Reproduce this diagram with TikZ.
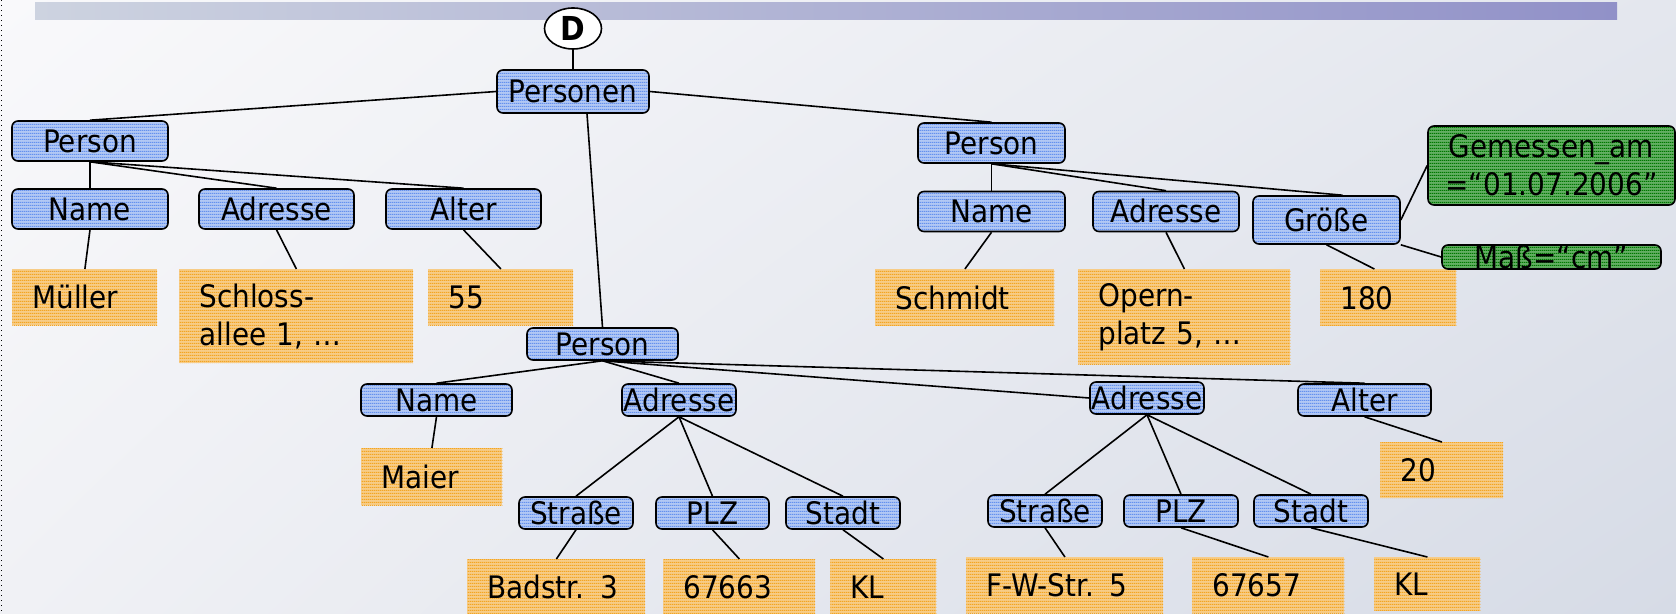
\documentclass[tikz,border=0pt]{standalone}
\usepackage{fontspec}
\setmainfont{DejaVu Sans}[FakeStretch=0.9, WordSpace=0.8]
\usetikzlibrary{patterns, shapes.geometric, shadings}

% thin horizontal stripes for the filled boxes
\pgfdeclarepatternformonly{finestripes}{\pgfpointorigin}{\pgfpoint{1pt}{1.5pt}}{\pgfpoint{1pt}{1.5pt}}{%
	\pgfpathrectangle{\pgfpointorigin}{\pgfpoint{1pt}{0.75pt}}\pgfusepath{fill}}

\definecolor{elemfill}{RGB}{178,200,244}
\definecolor{elemline}{RGB}{100,145,238}
\definecolor{valfill}{RGB}{247,204,135}
\definecolor{valline}{RGB}{243,165,35}
\definecolor{attrfill}{RGB}{100,175,100}
\definecolor{attrline}{RGB}{0,120,0}
\definecolor{bgUL}{RGB}{249,249,251}
\definecolor{bgUR}{RGB}{228,231,238}
\definecolor{bgLL}{RGB}{240,241,245}
\definecolor{bgLR}{RGB}{214,219,230}
\definecolor{barL}{RGB}{205,211,224}
\definecolor{barR}{RGB}{145,145,200}

\begin{document}
\begin{tikzpicture}[x=0.5pt, y=-0.5pt, font=\fontsize{15.5}{19}\selectfont,
		elem/.style={draw, line width=0.8pt, rounded corners=3pt, preaction={fill=elemfill},
			pattern=finestripes, pattern color=elemline, inner sep=0pt, text height=11.3pt, text depth=0pt},
		val/.style={anchor=north west, preaction={fill=valfill}, pattern=finestripes,
			pattern color=valline, inner xsep=10pt, inner ysep=0pt, align=left},
		attr/.style={draw, line width=0.8pt, rounded corners=3pt, preaction={fill=attrfill},
			pattern=finestripes, pattern color=attrline, inner sep=0pt, align=center},
		edge/.style={line width=0.8pt} ]
	\useasboundingbox (0,0) rectangle (1676,614);
	\shade[upper left=bgUL, upper right=bgUR, lower left=bgLL, lower right=bgLR] (0,0) rectangle (1676,614);
	\shade[left color=barL, right color=barR] (35,3) rectangle (1617,20);
	\draw[dotted, line width=0.5pt] (1,0) -- (1,614);

	% document root and persons
	\node[draw, fill=white, ellipse, line width=0.8pt, minimum width=28.5pt, minimum height=20.5pt, inner sep=0pt,
		font=\fontsize{16.5}{19}\bfseries] (doc) at (573,28.5) {D};
	\node[elem, minimum width=76pt, minimum height=21.5pt] (personen) at (573,91.5) {Personen};

	\node[elem, minimum width=78pt, minimum height=20pt] (personL) at (90,141) {Person};
	\node[elem, minimum width=78pt, minimum height=20pt] (name1) at (90,209) {Name};
	\node[elem, minimum width=77.5pt, minimum height=20pt] (adr1) at (276.5,209) {Adresse};
	\node[elem, minimum width=77.5pt, minimum height=20pt] (alter1) at (463.5,209) {Alter};
	\node[val, text width=52.5pt, minimum height=28pt] (mueller) at (12,269) {Müller};
	\node[val, text width=97pt, minimum height=47pt] (schloss) at (179,269) {Schloss-\\allee 1, …};
	\node[val, text width=52.5pt, minimum height=28pt] (v55) at (428,269) {55};

	\node[elem, minimum width=73.5pt, minimum height=20pt] (personR) at (991.5,143) {Person};
	\node[elem, minimum width=73.5pt, minimum height=20pt] (nameR) at (991.5,211.5) {Name};
	\node[elem, minimum width=73pt, minimum height=20pt] (adrR) at (1166,211.5) {Adresse};
	\node[elem, minimum width=73.5pt, minimum height=24pt] (groesse) at (1326.5,220) {Größe};
	\node[val, text width=69.5pt, minimum height=28.5pt] (schmidt) at (875,269) {Schmidt};
	\node[val, text width=86pt, minimum height=47.5pt] (opern) at (1078,269) {Opern-\\platz 5, …};
	\node[val, text width=48pt, minimum height=28.5pt] (v180) at (1320,269) {180};
	\node[attr, minimum width=123.5pt, minimum height=39.5pt] (gemessen) at (1551.5,165.5) {Gemessen\_am\\=“01.07.2006”};
	\node[attr, minimum width=109.5pt, minimum height=12pt, text height=11.3pt, text depth=0pt] (mass) at (1551.5,257) {Maß=“cm”};

	\node[elem, minimum width=75.5pt, minimum height=16pt] (personM) at (602.5,344) {Person};
	\node[elem, minimum width=75.5pt, minimum height=16pt] (name2) at (436.5,400) {Name};
	\node[elem, minimum width=57pt, minimum height=16pt] (adr2) at (679,400) {Adresse};
	\node[elem, minimum width=57pt, minimum height=16pt] (adr3) at (1147,398) {Adresse};
	\node[elem, minimum width=66.5pt, minimum height=16pt] (alter3) at (1364.5,400) {Alter};
	\node[val, text width=50.5pt, minimum height=28.5pt] (maier) at (361,448) {Maier};
	\node[val, text width=41.5pt, minimum height=28pt] (v20) at (1380,442) {20};

	\node[elem, minimum width=57pt, minimum height=16pt] (str2) at (576,513) {Straße};
	\node[elem, minimum width=56.5pt, minimum height=16pt] (plz2) at (712.5,513) {PLZ};
	\node[elem, minimum width=57pt, minimum height=16pt] (stadt2) at (843,513) {Stadt};
	\node[elem, minimum width=57pt, minimum height=16pt] (str3) at (1045,511) {Straße};
	\node[elem, minimum width=57pt, minimum height=16pt] (plz3) at (1181,511) {PLZ};
	\node[elem, minimum width=57pt, minimum height=16pt] (stadt3) at (1311,511) {Stadt};
	\node[val, text width=69pt, minimum height=28pt] (badstr) at (467,559) {Badstr. 3};
	\node[val, text width=56pt, minimum height=28pt] (v67663) at (663,559) {67663};
	\node[val, text width=33pt, minimum height=28pt] (kl2) at (830,559) {KL};
	\node[val, text width=78.5pt, minimum height=28pt] (fwstr) at (966,557) {F-W-Str. 5};
	\node[val, text width=56pt, minimum height=28pt] (v67657) at (1192,557) {67657};
	\node[val, text width=33pt, minimum height=27pt] (kl3) at (1374,557) {KL};

	% connectors
	\draw[edge] (doc.south) -- (personen.north);
	\draw[edge] (personen.west) -- (personL.north);
	\draw[edge] (personen.east) -- (personR.north);
	\draw[edge] ([xshift=7pt]personen.south) -- (personM.north);

	\draw[edge] (personL.south) -- (name1.north);
	\draw[edge] (personL.south) -- (adr1.north);
	\draw[edge] (personL.south) -- (alter1.north);
	\draw[edge] (name1.south) -- (mueller.north);
	\draw[edge] (adr1.south) -- (schloss.north);
	\draw[edge] (alter1.south) -- (v55.north);

	\draw[edge] (personR.south) -- (nameR.north);
	\draw[edge] (personR.south) -- (adrR.north);
	\draw[edge] (personR.south) -- ([xshift=8pt]groesse.north);
	\draw[edge] (nameR.south) -- (schmidt.north);
	\draw[edge] (adrR.south) -- (opern.north);
	\draw[edge] (groesse.south) -- ([xshift=-7pt]v180.north);
	\draw[edge] (groesse.east) -- (gemessen.west);
	\draw[edge] (groesse.south east) -- (mass.west);

	\draw[edge] (personM.south) -- (name2.north);
	\draw[edge] (personM.south) -- (adr2.north);
	\draw[edge] (personM.south) -- (adr3.west);
	\draw[edge] (personM.south) -- (alter3.north);
	\draw[edge] (name2.south) -- (maier.north);
	\draw[edge] (alter3.south) -- (v20.north);

	\draw[edge] (adr2.south) -- (str2.north);
	\draw[edge] (adr2.south) -- (plz2.north);
	\draw[edge] (adr2.south) -- (stadt2.north);
	\draw[edge] (str2.south) -- (badstr.north);
	\draw[edge] (plz2.south) -- (v67663.north);
	\draw[edge] (stadt2.south) -- (kl2.north);

	\draw[edge] (adr3.south) -- (str3.north);
	\draw[edge] (adr3.south) -- (plz3.north);
	\draw[edge] (adr3.south) -- (stadt3.north);
	\draw[edge] (str3.south) -- (fwstr.north);
	\draw[edge] (plz3.south) -- (v67657.north);
	\draw[edge] (stadt3.south) -- (kl3.north);
\end{tikzpicture}
\end{document}
